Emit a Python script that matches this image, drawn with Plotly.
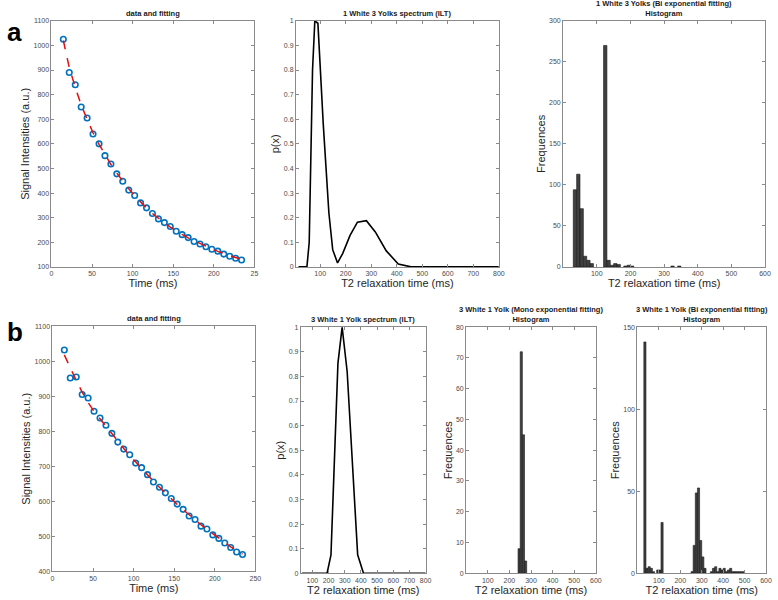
import plotly.graph_objects as go

# ---------------- data ----------------
echo_times = [14.6, 21.9, 29.3, 36.6, 43.9, 51.2, 58.6, 65.9, 73.2, 80.5, 87.8, 95.2,
              102.5, 109.8, 117.1, 124.4, 131.8, 139.1, 146.4, 153.7, 161.0, 168.4,
              175.7, 183.0, 190.3, 197.6, 205.0, 212.3, 219.6, 226.9, 234.2]

a_signal = [1025, 890, 840, 750, 705, 640, 600, 552, 518, 478, 448, 412, 390, 360, 340,
            317, 295, 280, 264, 245, 231, 219, 203, 193, 182, 172, 164, 152, 143, 135, 128]
a_fit = [1020, 910, 830, 758, 700, 645, 598, 555, 516, 481, 448, 417, 389, 363, 339,
         317, 297, 279, 262, 246, 232, 218, 206, 194, 183, 173, 163, 154, 146, 138, 131]

b_signal = [1032, 952, 955, 905, 895, 857, 838, 817, 794, 769, 749, 733, 709, 696, 676,
            655, 640, 624, 608, 592, 577, 558, 548, 529, 521, 504, 494, 481, 468, 455, 448]
b_fit = [1018, 980, 945, 912, 882, 857, 835, 814, 792, 771, 751, 731, 712, 694, 675,
         657, 640, 623, 607, 591, 576, 561, 547, 533, 520, 507, 494, 482, 470, 459, 449]

a_spec_t2 = [15, 48, 57, 70, 79, 91, 112, 134, 149, 168, 188, 217, 246, 281, 316, 359,
             406, 456, 520, 600, 700, 800]
a_spec_p = [0, 0, 0.10, 0.80, 1.0, 0.99, 0.58, 0.22, 0.07, 0.016, 0.054, 0.128, 0.182,
            0.188, 0.142, 0.065, 0.012, 0, 0, 0, 0, 0]

b_spec_t2 = [35, 120, 191, 215, 258, 284, 315, 380, 416, 500, 600, 700, 800]
b_spec_p = [0, 0, 0, 0.075, 0.853, 1.0, 0.82, 0.075, 0, 0, 0, 0, 0]

bin_width = 10
a_bi_edges = [30, 40, 50, 60, 70, 80, 120, 130, 140, 150, 160, 180, 190, 200, 320, 340]
a_bi_counts = [94, 113, 71, 13, 8, 4, 270, 8, 2, 4, 3, 1, 2, 1, 1, 1]

b_mono_edges = [240, 250, 260, 270]
b_mono_counts = [8, 72, 45, 4]

b_bi_edges = [30, 40, 50, 60, 70, 90, 100, 110, 250, 260, 270, 280, 290, 300, 310,
              340, 350, 360, 370, 380, 390, 400, 410, 420, 430, 440, 450, 460, 470, 480, 490]
b_bi_counts = [141, 3, 4, 3, 1, 2, 2, 31, 1, 17, 49, 52, 20, 10, 3,
               1, 3, 4, 1, 3, 2, 3, 1, 2, 3, 1, 1, 1, 1, 1, 1]

# ---------------- layout helpers ----------------
W, H = 778, 600
FONT = "Liberation Sans, Arial, sans-serif"
AX_COLOR = "#8a8a8a"
TICK_FONT = dict(family=FONT, size=7, color="#4a4a4a")
TITLE_FONT = dict(family=FONT, size=11, color="#262626")


def px_dom_x(l, r):
    return [l / W, r / W]


def px_dom_y(top, bottom):
    return [(H - bottom) / H, (H - top) / H]


def axis(dom, rng, tickvals, ticktext=None, title=None, anchor=None, standoff=None):
    d = dict(domain=dom, range=rng, tickvals=tickvals, showline=True, mirror="ticks",
             linecolor=AX_COLOR, linewidth=1, ticks="inside", ticklen=3,
             tickcolor=AX_COLOR, tickfont=TICK_FONT, showgrid=False, zeroline=False,
             anchor=anchor, fixedrange=True)
    if ticktext is not None:
        d["ticktext"] = ticktext
    if title:
        d["title"] = dict(text=title, font=TITLE_FONT)
        if standoff is not None:
            d["title"]["standoff"] = standoff
    return d


fig = go.Figure()

panels = {
    # name: (left, right, top, bottom)
    "a1": (50, 255, 17, 266),
    "a2": (297, 502, 17, 266),
    "a3": (567, 771, 17, 266),
    "b1": (51, 256, 326, 574),
    "b2": (302, 428, 327, 576),
    "b3": (469, 600, 327, 576),
    "b4": (642, 772, 327, 576),
}

layout = dict(width=W, height=H, margin=dict(l=0, r=0, t=0, b=0),
              paper_bgcolor="white", plot_bgcolor="white", showlegend=False,
              bargap=0, hovermode=False)

YS = 1  # y-title standoff
# a1
l, r, t, b = panels["a1"]
layout["xaxis"] = axis(px_dom_x(l, r), [0, 250], [0, 50, 100, 150, 200, 250],
                       ["0", "50", "100", "150", "200", "25"], "Time (ms)", "y", 2)
layout["yaxis"] = axis(px_dom_y(t, b), [100, 1100], list(range(100, 1101, 100)),
                       None, "Signal Intensities (a.u.)", "x", YS)
# a2
l, r, t, b = panels["a2"]
layout["xaxis2"] = axis(px_dom_x(l, r), [5, 800], list(range(100, 801, 100)), None,
                        "T2 relaxation time (ms)", "y2", 2)
yt = [i / 10 for i in range(11)]
ytt = ["0"] + [f"{v:.1f}" for v in yt[1:-1]] + ["1"]
layout["yaxis2"] = axis(px_dom_y(t, b), [0, 1], yt, ytt, "p(x)", "x2", YS)
# a3
l, r, t, b = panels["a3"]
layout["xaxis3"] = axis(px_dom_x(l, r), [0, 600], list(range(100, 601, 100)), None,
                        "T2 relaxation time (ms)", "y3", 2)
layout["yaxis3"] = axis(px_dom_y(t, b), [0, 300], list(range(0, 301, 50)), None,
                        "Frequences", "x3", YS)
# b1
l, r, t, b = panels["b1"]
layout["xaxis4"] = axis(px_dom_x(l, r), [0, 250], [0, 50, 100, 150, 200, 250], None,
                        "Time (ms)", "y4", 2)
layout["yaxis4"] = axis(px_dom_y(t, b), [400, 1100], list(range(400, 1101, 100)), None,
                        "Signal Intensities (a.u.)", "x4", YS)
# b2
l, r, t, b = panels["b2"]
layout["xaxis5"] = axis(px_dom_x(l, r), [29, 800], list(range(100, 801, 100)), None,
                        "T2 relaxation time (ms)", "y5", 2)
layout["yaxis5"] = axis(px_dom_y(t, b), [0, 1], yt, ytt, "p(x)", "x5", YS)
# b3
l, r, t, b = panels["b3"]
layout["xaxis6"] = axis(px_dom_x(l, r), [0, 600], list(range(100, 601, 100)), None,
                        "T2 relaxation time (ms)", "y6", 2)
layout["yaxis6"] = axis(px_dom_y(t, b), [0, 80], list(range(0, 81, 10)), None,
                        "Frequences", "x6", YS)
# b4
l, r, t, b = panels["b4"]
layout["xaxis7"] = axis(px_dom_x(l, r), [0, 600], list(range(100, 601, 100)), None,
                        "T2 relaxation time (ms)", "y7", 2)
layout["yaxis7"] = axis(px_dom_y(t, b), [0, 150], [0, 50, 100, 150], None,
                        "Frequences", "x7", YS)

fig.update_layout(**layout)

BLUE = "#0072BD"
MARK = dict(symbol="circle-open", size=5.5, color=BLUE, line=dict(width=1.6, color=BLUE))
FITLINE = dict(color="#e01010", width=1.5, dash="dash")

fig.add_trace(go.Scatter(x=echo_times, y=a_signal, mode="markers", marker=MARK, xaxis="x", yaxis="y"))
fig.add_trace(go.Scatter(x=echo_times, y=a_fit, mode="lines", line=FITLINE, xaxis="x", yaxis="y"))
fig.add_trace(go.Scatter(x=a_spec_t2, y=a_spec_p, mode="lines", line=dict(color="black", width=1.6),
                         xaxis="x2", yaxis="y2"))
BAR = dict(color="#404040", line=dict(color="#1a1a1a", width=0.6))
fig.add_trace(go.Bar(x=a_bi_edges, y=a_bi_counts, width=bin_width, offset=0, marker=BAR,
                     xaxis="x3", yaxis="y3"))
fig.add_trace(go.Scatter(x=echo_times, y=b_signal, mode="markers", marker=MARK, xaxis="x4", yaxis="y4"))
fig.add_trace(go.Scatter(x=echo_times, y=b_fit, mode="lines", line=FITLINE, xaxis="x4", yaxis="y4"))
fig.add_trace(go.Scatter(x=b_spec_t2, y=b_spec_p, mode="lines", line=dict(color="black", width=1.6),
                         xaxis="x5", yaxis="y5"))
fig.add_trace(go.Bar(x=b_mono_edges, y=b_mono_counts, width=bin_width, offset=0, marker=BAR,
                     xaxis="x6", yaxis="y6"))
fig.add_trace(go.Bar(x=b_bi_edges, y=b_bi_counts, width=bin_width, offset=0, marker=BAR,
                     xaxis="x7", yaxis="y7"))

# ---------------- titles & panel letters ----------------
TF = dict(family=FONT, size=7.5, color="#1a1a1a")
titles = [
    ("a1", "<b>data and fitting</b>"),
    ("a2", "<b>1 White 3 Yolks spectrum (ILT)</b>"),
    ("a3", "<b>1 White 3 Yolks (Bi exponential fitting)</b><br><b>Histogram</b>"),
    ("b1", "<b>data and fitting</b>"),
    ("b2", "<b>3 White 1 Yolk spectrum (ILT)</b>"),
    ("b3", "<b>3 White 1 Yolk (Mono exponential fitting)</b><br><b>Histogram</b>"),
    ("b4", "<b>3 White 1 Yolk (Bi exponential fitting)</b><br><b>Histogram</b>"),
]
for key, txt in titles:
    l, r, t, b = panels[key]
    fig.add_annotation(x=(l + r) / 2 / W, y=(H - t + 1) / H, xref="paper", yref="paper",
                       text=txt, showarrow=False, xanchor="center", yanchor="bottom",
                       font=TF, align="center")

for letter, yy in [("a", 28), ("b", 332)]:
    fig.add_annotation(x=3 / W, y=(H - yy) / H, xref="paper", yref="paper",
                       text=f"<b>{letter}</b>", showarrow=False, xanchor="left",
                       yanchor="middle", font=dict(family=FONT, size=26, color="black"))

fig.write_html("out.html", config={"displayModeBar": False, "staticPlot": True},
               post_script="document.body.style.margin='0';document.body.style.overflow='hidden';")
